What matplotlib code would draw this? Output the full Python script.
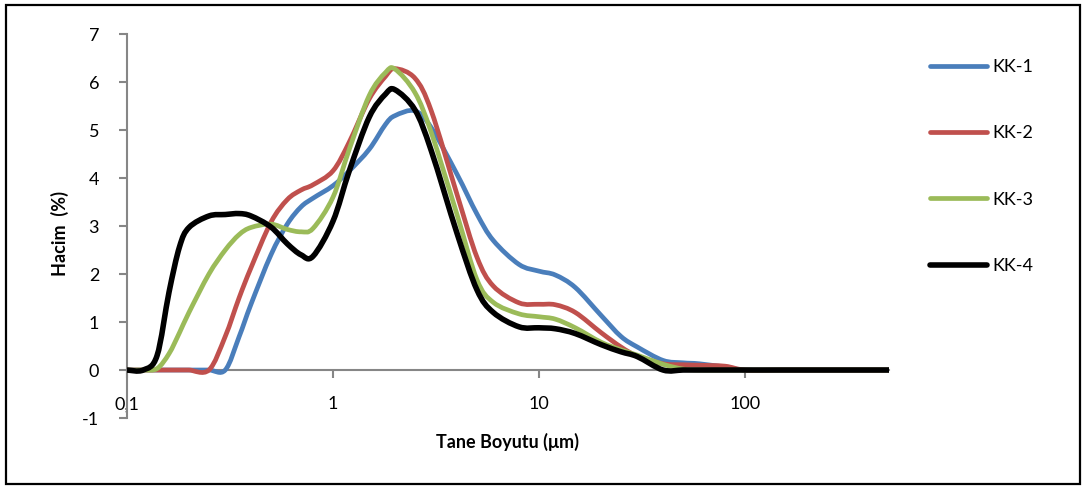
import numpy as np
import matplotlib
matplotlib.use("Agg")
from matplotlib import pyplot as plt
from matplotlib.patches import Rectangle, PathPatch
from matplotlib.path import Path
from matplotlib.lines import Line2D

plt.rcParams['font.family'] = ['Lato', 'DejaVu Sans']
plt.rcParams['axes.unicode_minus'] = False

# Tane boyutu (um) ve her numune icin hacim (%)
boyut = [0.1, 0.12, 0.14, 0.16, 0.18, 0.2, 0.25, 0.3, 0.35, 0.4,
         0.5, 0.6, 0.7, 0.8, 1, 1.2, 1.5, 1.8, 2, 2.5,
         3, 4, 5, 6, 8, 10, 12, 15, 20, 25,
         30, 40, 50, 60, 80, 100, 150, 200, 300, 500]

kk1 = [0, 0, 0, 0, 0, 0, 0, 0, 0.69, 1.37,
       2.4, 3.04, 3.4, 3.58, 3.84, 4.15, 4.6, 5.12, 5.3, 5.4,
       5.05, 4.08, 3.25, 2.7, 2.2, 2.06, 1.98, 1.72, 1.14, 0.7,
       0.48, 0.2, 0.15, 0.13, 0.06, 0, 0, 0, 0, 0]

kk2 = [0, 0, 0, 0, 0, 0, 0, 0.7, 1.5, 2.13,
       3.08, 3.55, 3.75, 3.86, 4.15, 4.75, 5.65, 6.12, 6.28, 6.08,
       5.4, 3.66, 2.35, 1.75, 1.4, 1.37, 1.36, 1.2, 0.78, 0.48,
       0.29, 0.13, 0.11, 0.1, 0.08, 0, 0, 0, 0, 0]

kk3 = [0, 0, 0.03, 0.34, 0.78, 1.2, 2.0, 2.5, 2.82, 2.97,
       3.04, 2.93, 2.88, 2.95, 3.6, 4.6, 5.72, 6.2, 6.27, 5.78,
       4.95, 3.24, 1.88, 1.41, 1.17, 1.11, 1.06, 0.88, 0.58, 0.42,
       0.31, 0.12, 0.02, 0, 0, 0, 0, 0, 0, 0]

kk4 = [0, 0, 0.3, 1.62, 2.57, 2.97, 3.21, 3.24, 3.26, 3.21,
       2.98, 2.63, 2.4, 2.37, 3.1, 4.15, 5.27, 5.75, 5.84, 5.42,
       4.57, 2.85, 1.67, 1.2, 0.9, 0.88, 0.86, 0.76, 0.53, 0.38,
       0.28, 0, 0, 0, 0, 0, 0, 0, 0, 0]

seriler = ['KK-1', 'KK-2', 'KK-3', 'KK-4']
renkler = ['#4A7EBB', '#C0504D', '#9BBB59', '#000000']
kalinlik = [3.4, 3.4, 3.4, 4.0]

x_tikler = [0.1, 1, 10, 100]
x_etiketler = ['0,1', '1', '10', '100']
y_tikler = [-1, 0, 1, 2, 3, 4, 5, 6, 7]


def yumusak_yol(x, y):
    # noktalardan gecen yumusatilmis cizgi (log x uzayinda Bezier egrileri)
    p = np.column_stack([np.log10(x), y])
    n = len(p)
    verts = [p[0]]
    codes = [Path.MOVETO]
    for i in range(n - 1):
        p0 = p[max(i - 1, 0)]
        p1 = p[i]
        p2 = p[i + 1]
        p3 = p[min(i + 2, n - 1)]
        verts += [p1 + (p2 - p0) / 6, p2 - (p3 - p1) / 6, p2]
        codes += [Path.CURVE4] * 3
    verts = np.array(verts)
    verts[:, 0] = 10 ** verts[:, 0]
    return Path(verts, codes)


fig = plt.figure(figsize=(10.86, 4.86), dpi=100)
ax = fig.add_axes([0.1169, 0.1399, 0.7017, 0.790])
ax.set_xscale('log')
ax.set_xlim(0.1, 500)
ax.set_ylim(-1, 7)

tutamaclar = []
for veri, ad, renk, lw in zip([kk1, kk2, kk3, kk4], seriler, renkler, kalinlik):
    ax.add_patch(PathPatch(yumusak_yol(boyut, veri), fill=False, edgecolor=renk,
                           lw=lw, joinstyle='round', capstyle='round', zorder=3))
    tutamaclar.append(Line2D([], [], color=renk, lw=lw, solid_capstyle='round', label=ad))

# eksenler: yatay eksen y=0'dan gecsin
gri = '#868686'
ax.spines['top'].set_visible(False)
ax.spines['right'].set_visible(False)
ax.spines['bottom'].set_position(('data', 0))
for k in ['bottom', 'left']:
    ax.spines[k].set_color(gri)
    ax.spines[k].set_linewidth(1.5)

ax.set_xticks(x_tikler)
ax.set_xticklabels(x_etiketler)
ax.xaxis.set_minor_locator(matplotlib.ticker.NullLocator())
ax.set_yticks(y_tikler)
ax.tick_params(axis='x', direction='out', length=6, width=1.5, color=gri,
               pad=13, labelsize=13)
ax.tick_params(axis='y', direction='out', length=6, width=1.5, color=gri,
               pad=14, labelsize=13)

ax.set_xlabel('Tane Boyutu (μm)', fontsize=13, fontweight='bold')
ax.set_ylabel('Hacim  (%)', fontsize=13, fontweight='bold')
ax.xaxis.set_label_coords(0.5, -0.038)
ax.yaxis.set_label_coords(-0.076, 0.48)

fig.legend(handles=tutamaclar, loc='upper left', bbox_to_anchor=(0.856, 0.878),
           frameon=False, fontsize=13, handlelength=3.2, handletextpad=0.3,
           labelspacing=2.78, borderpad=0, borderaxespad=0)

# grafik cercevesi
fig.patches.append(Rectangle((0.0055, 0.004), 0.989, 0.9856, transform=fig.transFigure,
                             fill=False, edgecolor='black', linewidth=1.6))

fig.savefig('out.png', dpi=100)
